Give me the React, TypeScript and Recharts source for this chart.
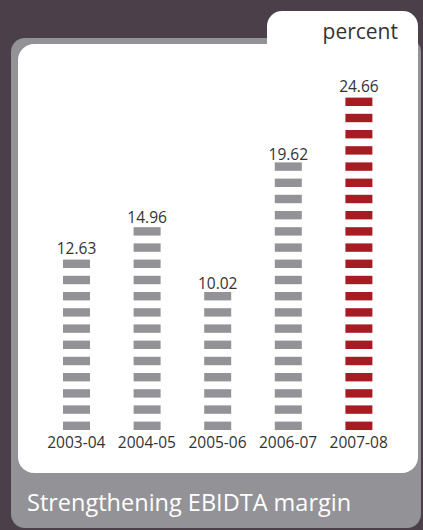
import React from 'react';
import { BarChart, Bar, XAxis, YAxis, LabelList, Cell } from 'recharts';

const years = ['2003-04', '2004-05', '2005-06', '2006-07', '2007-08'];
const ebidtaMargins = [12.63, 14.96, 10.02, 19.62, 24.66];
const barColors = ['#939397', '#939397', '#939397', '#939397', '#a61c22'];
const unitLabel = 'percent';
const caption = 'Strengthening EBIDTA margin';

const data = years.map((year, i) => ({ year, value: ebidtaMargins[i], color: barColors[i] }));

const FONT = '"Open Sans", "Noto Sans", sans-serif';
const SEG_PERIOD = 16.2;
const SEG_H = 8.4;

const SegmentedBar = (props: any) => {
  const { x, y, width, height, payload } = props;
  const fill = (payload && payload.color) || props.fill;
  const bottom = y + height;
  const segs: React.ReactNode[] = [];
  for (let k = 0; k < 200; k++) {
    const top = bottom - SEG_H - k * SEG_PERIOD;
    if (top < y - 5) break;
    segs.push(<rect key={k} x={x} y={top} width={width} height={SEG_H} fill={fill} />);
  }
  return <g>{segs}</g>;
};

const YearTick = (props: any) => {
  const { x, y, payload } = props;
  return (
    <text x={x} y={y} dy={18} textAnchor="middle" fill="#333333" fontSize={15.5} fontFamily={FONT}>
      {payload.value}
    </text>
  );
};

export default function App() {
  return (
    <div style={{ position: 'absolute', left: 0, top: 0, width: 423, height: 530, overflow: 'hidden', background: '#4b4049' }}>
      {/* grey outer panel */}
      <div style={{ position: 'absolute', left: 11, top: 38, width: 410, height: 490, background: '#939397', borderRadius: 14 }} />
      {/* tab */}
      <div style={{ position: 'absolute', left: 267, top: 11, width: 151, height: 60, background: '#ffffff', borderTopLeftRadius: 15, borderTopRightRadius: 15 }} />
      {/* white inner panel */}
      <div style={{ position: 'absolute', left: 18, top: 44, width: 400, height: 429, background: '#ffffff', borderRadius: 16, borderTopRightRadius: 0 }} />
      <div style={{ position: 'absolute', right: 25, top: 17, fontFamily: FONT, fontSize: 21, color: '#333333', lineHeight: '28px' }}>{unitLabel}</div>
      <div style={{ position: 'absolute', left: 27, top: 488, fontFamily: FONT, fontSize: 23.5, color: '#ffffff', lineHeight: '28px', whiteSpace: 'nowrap' }}>{caption}</div>
      <div style={{ position: 'absolute', left: 0, top: 0 }}>
        <BarChart width={423} height={530} data={data} margin={{ top: 26.5, right: 29, bottom: 70, left: 41 }}>
          <XAxis dataKey="year" axisLine={false} tickLine={false} tickSize={0} tickMargin={0} height={30} interval={0} tick={<YearTick />} />
          <YAxis hide domain={[0, 30]} />
          <Bar dataKey="value" barSize={27} isAnimationActive={false} shape={<SegmentedBar />}>
            {data.map((d, i) => (
              <Cell key={i} fill={d.color} />
            ))}
            <LabelList dataKey="value" position="top" offset={6} fill="#333333" fontSize={15.5} fontFamily={FONT} formatter={(v: any) => Number(v).toFixed(2)} />
          </Bar>
        </BarChart>
      </div>
    </div>
  );
}
